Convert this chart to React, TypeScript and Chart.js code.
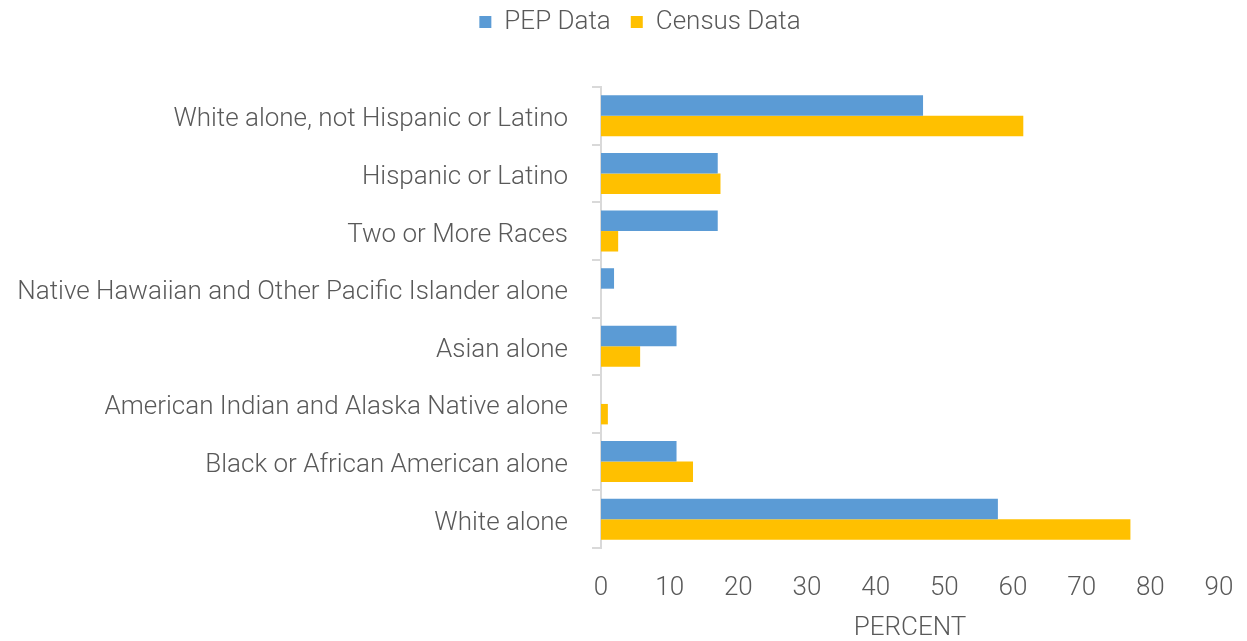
import React, { useEffect, useRef } from "react";
import { Chart, registerables } from "chart.js";

Chart.register(...registerables);

const categories = [
  "White alone, not Hispanic or Latino",
  "Hispanic or Latino",
  "Two or More Races",
  "Native Hawaiian and Other Pacific Islander alone",
  "Asian alone",
  "American Indian and Alaska Native alone",
  "Black or African American alone",
  "White alone",
];
const pepData = [46.9, 17.0, 17.0, 1.9, 11.0, 0, 11.0, 57.8];
const censusData = [61.5, 17.4, 2.5, 0, 5.7, 1.0, 13.4, 77.1];
const xTicks = [0, 10, 20, 30, 40, 50, 60, 70, 80, 90];

const FONT = "Roboto, 'Liberation Sans', sans-serif";
const GRAY = "#595959";

export default function App() {
  const ref = useRef<HTMLCanvasElement | null>(null);
  useEffect(() => {
    if (!ref.current) return;
    const legendTweak = {
      id: "legendTweak",
      beforeInit(chart: any) {
        const legend = chart.legend;
        const origFit = legend.fit;
        legend.fit = function () {
          origFit.call(this);
          this.height = 87;
        };
      },
      afterLayout(chart: any) {
        // lift the legend row so the wider item spacing does not push it down
        chart.legend.top = -11;
      },
    };
    const chart = new Chart(ref.current, {
      type: "bar",
      data: {
        labels: categories,
        datasets: [
          {
            label: "PEP Data",
            data: pepData,
            backgroundColor: "#5B9BD5",
            borderWidth: 0,
            categoryPercentage: 0.71,
            barPercentage: 1,
          },
          {
            label: "Census Data",
            data: censusData,
            backgroundColor: "#FFC000",
            borderWidth: 0,
            categoryPercentage: 0.71,
            barPercentage: 1,
          },
        ],
      },
      options: {
        indexAxis: "y",
        animation: false,
        responsive: true,
        maintainAspectRatio: false,
        layout: { padding: { left: 33, right: 0, top: 0, bottom: 0 } },
        plugins: {
          legend: {
            position: "top",
            labels: {
              boxWidth: 12,
              boxHeight: 12,
              color: GRAY,
              font: { family: FONT, size: 26, weight: "300" },
              padding: 20,
            },
          },
          tooltip: { enabled: false },
        },
        scales: {
          x: {
            min: 0,
            max: 90,
            afterFit(scale: any) {
              scale.height = 93;
              scale.paddingLeft = 0;
              scale.paddingRight = 28;
            },
            afterBuildTicks(scale: any) {
              scale.ticks = xTicks.map((v) => ({ value: v }));
            },
            grid: { display: false, drawTicks: false },
            border: { display: false },
            ticks: {
              color: GRAY,
              padding: 25,
              font: { family: FONT, size: 26, weight: "300" },
            },
            title: {
              display: true,
              text: "PERCENT",
              color: GRAY,
              padding: { top: 0, bottom: 0 },
              font: { family: FONT, size: 26, weight: "300", lineHeight: 1 },
            },
          },
          y: {
            afterFit(scale: any) {
              scale.width = 568;
              // let the long labels extend past the scale box instead of being clipped
              scale._computeLabelArea = () => undefined;
            },
            grid: {
              display: true,
              drawOnChartArea: false,
              drawTicks: true,
              tickLength: 9,
              color: "#d9d9d9",
              lineWidth: 2,
            },
            border: { display: true, color: "#d9d9d9", width: 2 },
            ticks: {
              color: GRAY,
              padding: 24,
              labelOffset: 4,
              font: { family: FONT, size: 26, weight: "300" },
            },
          },
        },
      },
      plugins: [legendTweak],
    } as any);
    return () => chart.destroy();
  }, []);
  return (
    <div style={{ position: "fixed", left: 0, top: 0, width: 1247, height: 641, background: "#fff" }}>
      <canvas ref={ref} />
    </div>
  );
}
